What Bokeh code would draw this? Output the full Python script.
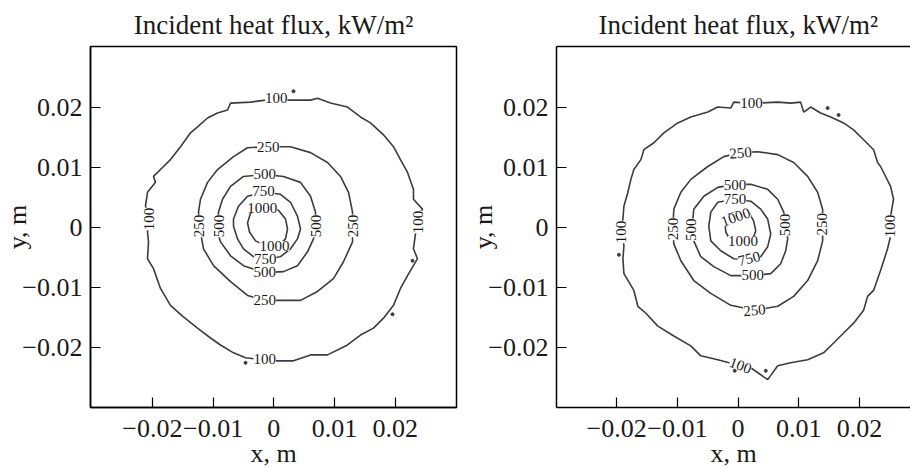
from bokeh.plotting import figure
from bokeh.layouts import row
from bokeh.models import FixedTicker, Label, LinearAxis, Title
from bokeh.embed import file_html
from bokeh.resources import INLINE

# ---------------- data ----------------
tick_values = [-0.02, -0.01, 0, 0.01, 0.02]
tick_labels = ["\u22120.02", "\u22120.01", "0", "0.01", "0.02"]
title_text = "Incident heat flux, kW/m\u00b2"
x_title = "x, m"
y_title = "y, m"

# contour lines, coordinates in mm (left panel)
L100_x = [-1.37, 2.26, 6.05, 7.2, 9.34, 12.14, 14.28, 15.93, 18.07, 19.72, 20.87, 22.03, 23.01, 23.01, 24.5,
          23.67, 23.67, 23.34, 23.01, 23.67, 22.03, 20.87, 19.72, 18.07, 16.42, 14.28, 12.14, 8.85, 6.05, 3.25,
          0.61, -1.7, -4.66, -6.64, -8.78, -10.43, -12.57, -15.04, -17.02, -18.67, -19.82, -20.81, -20.64,
          -20.81, -20.48, -21.14, -20.81, -19.49, -19.82, -18.17, -17.02, -15.37, -13.72, -12.57, -10.92,
          -9.27, -7.63, -7.13, -3.84]
L100_y = [21.17, 21.17, 21.17, 21.5, 20.68, 20.02, 18.37, 17.38, 15.4, 13.42, 11.27, 9.13, 6.32, 4.67, 3.02,
          1.86, 0.21, -1.11, -3.58, -5.23, -8.04, -10.18, -12.99, -15.13, -16.78, -17.94, -19.59, -21.24,
          -21.24, -22.23, -22.23, -22.06, -21.73, -20.9, -19.59, -18.43, -16.78, -14.8, -12.99, -10.18, -6.88,
          -5.23, -2.43, -0.78, 1.37, 3.51, 5.83, 7.48, 8.47, 10.12, 11.27, 13.42, 15.73, 16.72, 18.2, 19.03,
          19.52, 20.68, 20.84]
L250_x = [-0.87, 2.75, 6.05, 8.85, 10.99, 12.31, 12.97, 12.97, 11.48, 9.83, 7.2, 4.4, -1.53, -4.33, -7.13,
          -9.93, -11.58, -12.08, -12.41, -12.08, -10.92, -9.27, -6.64, -4.33]
L250_y = [13.42, 13.42, 12.43, 10.78, 8.47, 5.83, 2.52, -2.43, -5.73, -8.53, -10.68, -12.16, -12.16, -11.34,
          -9.03, -6.39, -3.58, -0.78, 2.52, 4.67, 7.48, 9.62, 11.77, 13.25]
L500_x = [-1.53, 1.6, 4.4, 6.05, 6.87, 6.87, 6.54, 5.55, 3.9, 1.6, -1.53, -4.99, -7.13, -8.78, -9.27, -9.11,
          -8.45, -7.13, -4.99]
L500_y = [8.8, 8.47, 7.48, 5.17, 2.52, -0.78, -1.93, -4.08, -6.39, -7.38, -7.54, -6.39, -4.74, -2.43, -0.78,
          2.52, 4.67, 6.82, 8.47]
L750_x = [-1.7, 1.1, 2.75, 3.9, 4.4, 3.9, 2.75, 1.1, -1.37, -3.34, -4.99, -5.98, -6.64, -6.64, -5.82, -4.33]
L750_y = [5.83, 5.5, 4.17, 1.86, -0.28, -1.93, -3.58, -4.9, -5.23, -4.9, -3.58, -1.93, 0.21, 1.37, 3.51, 5.17]
L1000_x = [-1.86, 0.77, 1.93, 2.26, 1.93, 0.77, -1.37, -3.01, -4.0, -4.33, -3.84]
L1000_y = [3.35, 2.85, 1.37, -0.28, -1.93, -3.09, -3.09, -2.26, -0.78, 0.71, 2.36]
L_dots_x = [3.25, 22.85, 19.56, -4.66]
L_dots_y = [22.65, -5.56, -14.47, -22.56]

# contour lines, coordinates in mm (right panel)
R100_x = [1.6, 3.24, 6.53, 8.67, 10.31, 10.81, 11.96, 13.6, 15.25, 17.38, 19.03, 20.68, 22.32, 22.98, 23.47,
          25.12, 25.61, 25.12, 25.12, 24.62, 23.47, 22.32, 21.33, 20.68, 19.03, 16.89, 15.74, 14.09, 11.46,
          8.67, 6.53, 4.88, 2.09, 0.44, -3.34, -6.14, -7.79, -10.58, -13.21, -15.18, -16.5, -17.16, -18.8,
          -18.96, -18.8, -18.96, -19.29, -18.96, -18.8, -18.14, -17.65, -17.16, -16.0, -15.51, -13.86, -12.22,
          -9.92, -7.78, -4.98, -3.34, -1.2, -0.71]
R100_y = [20.68, 20.68, 20.84, 20.68, 20.84, 19.19, 20.02, 19.03, 18.37, 17.38, 16.22, 14.57, 12.92, 10.78,
          10.12, 6.82, 4.67, 1.86, -1.44, -3.58, -7.21, -10.51, -11.5, -13.81, -15.96, -18.1, -19.26, -20.9,
          -22.06, -22.56, -23.05, -25.36, -23.38, -23.05, -22.06, -21.4, -19.75, -18.1, -16.45, -14.31, -13.15,
          -10.51, -7.71, -5.23, -3.09, -1.44, -0.28, 1.37, 3.51, 5.83, 7.98, 9.62, 11.27, 12.92, 14.08, 15.73,
          17.38, 18.37, 19.19, 20.02, 19.85, 20.84]
R250_x = [0.44, 3.24, 6.53, 9.16, 11.46, 13.11, 13.93, 13.93, 13.11, 11.46, 9.16, 6.53, 2.75, -1.2, -4.49,
          -7.29, -9.42, -10.58, -10.74, -10.58, -9.42, -7.78, -4.98, -2.35]
R250_y = [12.43, 12.59, 12.1, 10.78, 8.47, 5.83, 3.02, -2.26, -5.56, -8.86, -11.5, -13.15, -13.81, -12.99,
          -11.01, -8.86, -5.56, -2.76, -0.28, 3.02, 5.83, 7.98, 10.12, 11.77]
R500_x = [-0.54, 2.09, 4.88, 6.53, 7.52, 8.0, 8.17, 7.85, 7.02, 5.38, 2.42, -1.2, -4.0, -6.14, -7.29, -7.78,
          -7.45, -7.29, -5.64, -3.34]
R500_y = [7.15, 7.15, 6.32, 4.67, 2.52, 0.05, -1.93, -3.91, -6.06, -7.71, -8.04, -8.04, -6.55, -4.9, -2.26,
          -0.45, 1.37, 3.02, 5.17, 6.65]
R750_x = [-0.54, 2.09, 3.73, 4.88, 5.38, 4.88, 3.73, 1.76, -0.71, -2.85, -4.49, -4.82, -4.49, -3.34]
R750_y = [4.67, 4.34, 3.02, 1.37, -1.11, -3.25, -4.9, -5.4, -5.23, -3.91, -2.26, 0.21, 2.52, 4.17]
R1000_x = [-0.38, 1.76, 2.58, 2.91, 2.42, 0.77, -1.2, -2.02, -2.19, -1.53]
R1000_y = [2.52, 2.52, 1.04, -0.61, -1.93, -2.59, -2.26, -0.78, 1.04, 2.19]
R_dots_x = [14.75, 16.56, -19.62, -0.54, 4.56]
R_dots_y = [19.85, 18.7, -4.57, -23.88, -23.88]

# contour labels (mm, degrees)
L_lab_text = ["100", "100", "100", "100", "250", "250", "250", "250", "500", "500", "500", "500",
              "750", "750", "1000", "1000"]
L_lab_x = [0.4, -1.5, -20.5, 23.7, -0.9, -1.5, -12.4, 13.0, -1.5, -1.5, -9.1, 6.9, -1.7, -1.4, -1.9, 0.1]
L_lab_y = [21.5, -21.9, 1.4, 0.9, 13.4, -12.1, 0.2, 0.2, 8.8, -7.5, 0.2, 0.2, 6.0, -5.2, 3.2, -3.1]
L_lab_ang = [0, 0, 90, 90, 0, 0, 90, 90, 0, 0, 90, 90, 0, 0, 0, 0]

R_lab_text = ["100", "100", "100", "100", "250", "250", "250", "250", "500", "500", "500", "500",
              "750", "750", "1000", "1000"]
R_lab_x = [2.2, 0.4, -19.3, 25.1, 0.4, 2.7, -10.7, 13.9, -0.5, 2.4, -7.8, 7.8, -0.5, 1.8, -0.4, 0.8]
R_lab_y = [20.7, -23.0, -0.8, 0.2, 12.4, -13.8, -0.3, 0.5, 7.1, -8.0, -0.4, 0.4, 4.7, -5.2, 1.7, -2.3]
R_lab_ang = [0, -20, 90, 90, 5, 5, 90, 90, 0, 0, 90, 90, 0, 15, 20, 0]

# ---------------- styling ----------------
FONT = "Liberation Serif"
TXT = "#1a1a1a"
LINE = "#3c3c3c"


def mm(v):
    return [a / 1000.0 for a in v]


def make_panel(width, border_left, border_right, xr, contours, dots, labs, boxed, title_align, title_offset):
    p = figure(width=width, height=468, x_range=xr, y_range=(-0.0300, 0.0301),
               output_backend="svg", toolbar_location=None,
               min_border_left=border_left, min_border_right=border_right,
               min_border_top=46, min_border_bottom=58,
               x_axis_location=None, y_axis_location=None)
    p.grid.visible = False
    p.background_fill_color = "white"
    p.border_fill_color = "white"
    if boxed:
        p.outline_line_color = "black"
        p.outline_line_width = 1.5
    else:
        p.outline_line_color = None

    p.title.text = title_text
    p.title.text_font = FONT
    p.title.text_font_size = "27px"
    p.title.text_font_style = "normal"
    p.title.text_color = TXT
    p.title.align = title_align
    p.title.offset = title_offset
    p.title.standoff = 14

    def style_axis(ax, standoff):
        ax.ticker = FixedTicker(ticks=tick_values)
        ax.major_label_overrides = {v: t for v, t in zip(tick_values, tick_labels)}
        ax.major_tick_in = 10
        ax.major_tick_out = 0
        ax.minor_tick_line_color = None
        ax.axis_line_color = "black"
        ax.axis_line_width = 1.5
        ax.major_tick_line_color = "black"
        ax.major_tick_line_width = 1.2
        ax.major_label_text_font = FONT
        ax.major_label_text_font_size = "26px"
        ax.major_label_text_color = TXT
        ax.major_label_standoff = standoff
        ax.axis_label_text_font = FONT
        ax.axis_label_text_font_size = "26px"
        ax.axis_label_text_font_style = "normal"
        ax.axis_label_text_color = TXT

    xa = LinearAxis()
    style_axis(xa, 12)
    p.add_layout(xa, "below")
    # x axis title as a bottom title, close under the tick labels
    p.add_layout(Title(text=x_title, align="center", vertical_align="top", standoff=-2,
                       text_font=FONT, text_font_size="26px", text_font_style="normal",
                       text_color=TXT), "below")
    ya = LinearAxis()
    style_axis(ya, 8)
    ya.axis_label = y_title
    ya.axis_label_standoff = -13
    p.add_layout(ya, "left")
    if not boxed:
        ta = LinearAxis(ticker=FixedTicker(ticks=[]), major_label_text_font_size="0px",
                        major_tick_in=0, major_tick_out=0, minor_tick_line_color=None,
                        major_label_standoff=0, axis_line_color="black", axis_line_width=1.5)
        p.add_layout(ta, "above")

    for cx, cy in contours:
        xs = mm(cx) + mm(cx[:1])
        ys = mm(cy) + mm(cy[:1])
        p.line(xs, ys, line_color=LINE, line_width=1.6)
    p.scatter(mm(dots[0]), mm(dots[1]), size=3, color=LINE)

    for t, lx, ly, la in zip(*labs):
        p.add_layout(Label(x=lx / 1000.0, y=ly / 1000.0, text=t, angle=la, angle_units="deg",
                           text_align="center", text_baseline="middle",
                           text_font=FONT, text_font_size="15px", text_color=TXT,
                           background_fill_color="white"))
    return p


p1 = make_panel(466, 90, 10, (-0.0302, 0.0301),
                [(L100_x, L100_y), (L250_x, L250_y), (L500_x, L500_y), (L750_x, L750_y), (L1000_x, L1000_y)],
                (L_dots_x, L_dots_y), (L_lab_text, L_lab_x, L_lab_y, L_lab_ang), True, "center", 0)
p2 = make_panel(444, 89, 0, (-0.0299, 0.0284),
                [(R100_x, R100_y), (R250_x, R250_y), (R500_x, R500_y), (R750_x, R750_y), (R1000_x, R1000_y)],
                (R_dots_x, R_dots_y), (R_lab_text, R_lab_x, R_lab_y, R_lab_ang), False, "left", 42)

layout = row(p1, p2)
open("out.html", "w").write(file_html(layout, INLINE))
